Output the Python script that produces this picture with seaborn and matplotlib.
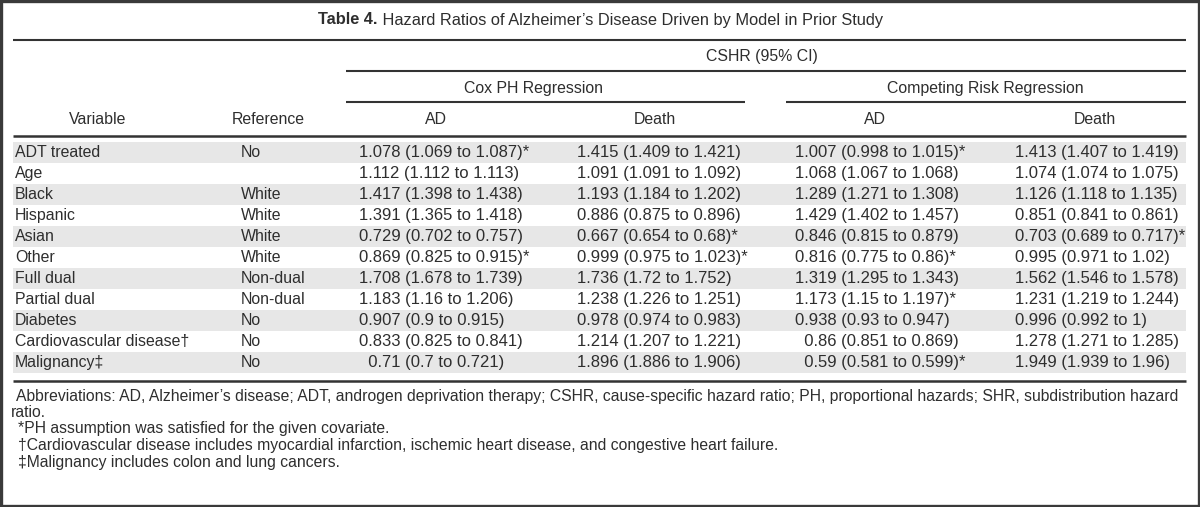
import matplotlib
matplotlib.use("Agg")
import matplotlib.pyplot as plt
import numpy as np
import seaborn as sns
from matplotlib.colors import ListedColormap
from matplotlib.patches import Rectangle

# table content
variables = ["ADT treated", "Age", "Black", "Hispanic", "Asian", "Other", "Full dual",
             "Partial dual", "Diabetes", "Cardiovascular disease\u2020", "Malignancy\u2021"]
references = ["No", "", "White", "White", "White", "White", "Non-dual", "Non-dual",
              "No", "No", "No"]

# (hazard ratio, lower CI, upper CI)
cox_ad = [(1.078, 1.069, 1.087), (1.112, 1.112, 1.113), (1.417, 1.398, 1.438),
          (1.391, 1.365, 1.418), (0.729, 0.702, 0.757), (0.869, 0.825, 0.915),
          (1.708, 1.678, 1.739), (1.183, 1.16, 1.206), (0.907, 0.9, 0.915),
          (0.833, 0.825, 0.841), (0.71, 0.7, 0.721)]
cox_death = [(1.415, 1.409, 1.421), (1.091, 1.091, 1.092), (1.193, 1.184, 1.202),
             (0.886, 0.875, 0.896), (0.667, 0.654, 0.68), (0.999, 0.975, 1.023),
             (1.736, 1.72, 1.752), (1.238, 1.226, 1.251), (0.978, 0.974, 0.983),
             (1.214, 1.207, 1.221), (1.896, 1.886, 1.906)]
crr_ad = [(1.007, 0.998, 1.015), (1.068, 1.067, 1.068), (1.289, 1.271, 1.308),
          (1.429, 1.402, 1.457), (0.846, 0.815, 0.879), (0.816, 0.775, 0.86),
          (1.319, 1.295, 1.343), (1.173, 1.15, 1.197), (0.938, 0.93, 0.947),
          (0.86, 0.851, 0.869), (0.59, 0.581, 0.599)]
crr_death = [(1.413, 1.407, 1.419), (1.074, 1.074, 1.075), (1.126, 1.118, 1.135),
             (0.851, 0.841, 0.861), (0.703, 0.689, 0.717), (0.995, 0.971, 1.02),
             (1.562, 1.546, 1.578), (1.231, 1.219, 1.244), (0.996, 0.992, 1),
             (1.278, 1.271, 1.285), (1.949, 1.939, 1.96)]

# PH assumption satisfied (footnote *)
cox_ad_ph = [1, 0, 0, 0, 0, 1, 0, 0, 0, 0, 0]
cox_death_ph = [0, 0, 0, 0, 1, 1, 0, 0, 0, 0, 0]
crr_ad_ph = [1, 0, 0, 0, 0, 1, 0, 1, 0, 0, 1]
crr_death_ph = [0, 0, 0, 0, 1, 0, 0, 0, 0, 0, 0]

title_bold = "Table 4."
title_rest = " Hazard Ratios of Alzheimer\u2019s Disease Driven by Model in Prior Study"
footnotes = [
    "Abbreviations: AD, Alzheimer\u2019s disease; ADT, androgen deprivation therapy; CSHR, cause-specific hazard ratio; PH, proportional hazards; SHR, subdistribution hazard",
    "ratio.",
    "*PH assumption was satisfied for the given covariate.",
    "\u2020Cardiovascular disease includes myocardial infarction, ischemic heart disease, and congestive heart failure.",
    "\u2021Malignancy includes colon and lung cancers.",
]


def fmt_cell(vals, star):
    hr, lo, hi = vals
    est = f"{hr:g}"
    pad = "\u2007" * max(0, 5 - len(est))
    return f"{pad}{est} ({lo:g} to {hi:g})" + ("*" if star else "")


sns.set_theme(style="white")
plt.rcParams['font.family'] = ['Liberation Sans', 'DejaVu Sans']

W, H = 1200, 507
fig = plt.figure(figsize=(W / 100, H / 100), dpi=100)
fig.patch.set_facecolor("white")

n = len(variables)
row_top, row_h = 142, 21
x0, x1 = 13, 1186

# zebra stripes through a seaborn heatmap
body = fig.add_axes([x0 / W, 1 - (row_top + n * row_h) / H, (x1 - x0) / W, n * row_h / H])
stripes = np.array([[1 - i % 2] for i in range(n)])
sns.heatmap(stripes, cmap=ListedColormap(["white", "#e7e7e7"]), vmin=0, vmax=1,
            cbar=False, xticklabels=False, yticklabels=False, ax=body)
body.axis("off")

ax = fig.add_axes([0, 0, 1, 1])
ax.set_zorder(2)
ax.patch.set_alpha(0)
ax.set_xlim(0, W)
ax.set_ylim(H, 0)
ax.axis("off")

ink = "#2e2e2e"
fs = 11.4
fs_num = 12.0
line_col = "#333333"

# title
t = ax.text(318, 20, title_bold, fontsize=11.8, fontweight="bold", color=ink, ha="left", va="center")
ax.annotate(title_rest, xy=(1, 0.5), xycoords=t, fontsize=11.8, color=ink, ha="left", va="center")

# rules
ax.hlines(40, x0, x1, color=line_col, lw=1.5)
ax.hlines(71, 346, x1, color=line_col, lw=1.5)
ax.hlines(102, 346, 745, color=line_col, lw=1.5)
ax.hlines(102, 786, x1, color=line_col, lw=1.5)
ax.hlines(135.5, x0, x1, color=line_col, lw=1.8)
ax.hlines(row_top + n * row_h + 8, x0, x1, color=line_col, lw=1.8)

# spanning headers
ax.text(762, 57, "CSHR (95% CI)", fontsize=fs, color=ink, ha="center", va="center")
ax.text(533, 88, "Cox PH Regression", fontsize=fs, color=ink, ha="center", va="center")
ax.text(985, 88, "Competing Risk Regression", fontsize=fs, color=ink, ha="center", va="center")

# column headers
for label, xc in zip(["Variable", "Reference", "AD", "Death", "AD", "Death"],
                     [98, 268, 436, 655, 875, 1095]):
    ax.text(xc, 120, label, fontsize=fs, color=ink, ha="center", va="center")

# body
text_cols = [(15, variables), (241, references)]
num_cols = [
    (359, [fmt_cell(v, s) for v, s in zip(cox_ad, cox_ad_ph)]),
    (577, [fmt_cell(v, s) for v, s in zip(cox_death, cox_death_ph)]),
    (795, [fmt_cell(v, s) for v, s in zip(crr_ad, crr_ad_ph)]),
    (1015, [fmt_cell(v, s) for v, s in zip(crr_death, crr_death_ph)]),
]
for xl, texts in text_cols:
    for i, s in enumerate(texts):
        ax.text(xl, row_top + (i + 0.5) * row_h, s, fontsize=fs, color=ink,
                ha="left", va="center")
for xl, texts in num_cols:
    for i, s in enumerate(texts):
        ax.text(xl, row_top + (i + 0.5) * row_h, s, fontsize=fs_num, color=ink,
                ha="left", va="center")

# footnotes
foot_x = [16, 11, 18, 18, 18]
for k, (s, xl) in enumerate(zip(footnotes, foot_x)):
    ax.text(xl, 396 + k * 16.5, s, fontsize=11.3, color=ink, ha="left", va="center")

# outer frame
fig.patches.append(Rectangle((0.001, 0.002), 0.998, 0.996, transform=fig.transFigure,
                             fill=False, edgecolor="#3a3a3a", lw=2.4))

fig.savefig("out.png", dpi=100)
